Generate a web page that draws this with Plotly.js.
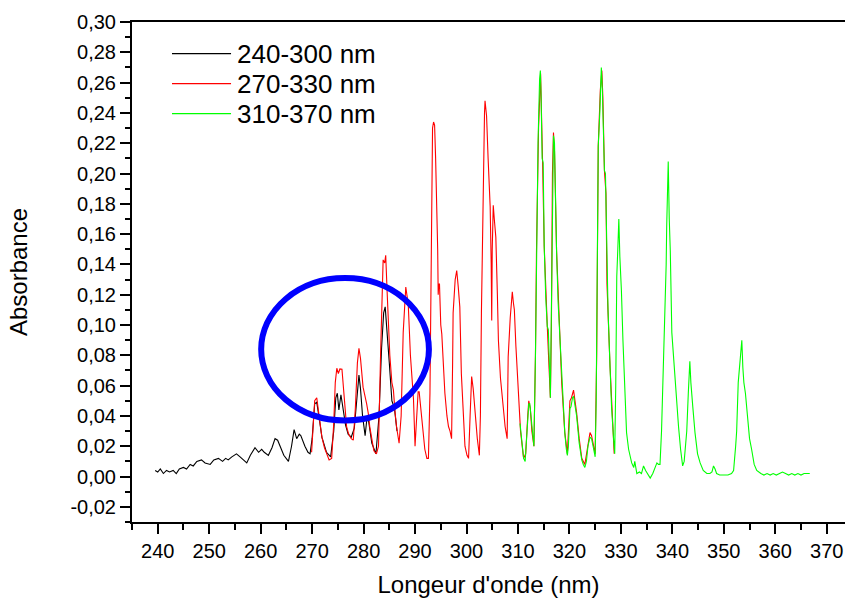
<!DOCTYPE html>
<html>
<head>
<meta charset="utf-8">
<script src="https://cdn.plot.ly/plotly-3.0.1.min.js"></script>
<style>
  html, body { margin: 0; padding: 0; background: #ffffff; }
  #chart { width: 845px; height: 598px; }
</style>
</head>
<body>
<div id="chart"></div>
<script>
// ---- Data ----
const seriesNames = ["240-300 nm", "270-330 nm", "310-370 nm"];
const seriesColors = ["#000000", "#ff0000", "#00ff00"];

const blackX = [239.5,240.0,240.5,241.1,241.7,242.3,243.0,243.6,244.2,245.0,245.6,246.3,246.9,247.6,248.5,249.2,250.2,250.9,251.8,252.6,253.2,253.7,254.4,255.3,256.0,256.6,257.3,258.0,258.9,259.6,260.2,260.7,261.5,262.2,262.8,263.3,263.8,264.5,265.4,266.0,266.5,267.0,267.5,267.8,268.6,269.2,269.6,270.0,270.5,270.9,271.4,271.9,272.8,273.6,274.2,274.6,274.9,275.2,275.6,276.0,276.5,277.0,277.6,278.2,278.6,279.1,279.4,279.8,280.3,280.7,281.0,281.6,282.4,283.0,283.5,283.9,284.2,284.6,285.0,285.5,286.0,286.5];
const blackY = [0.004,0.003,0.005,0.002,0.004,0.003,0.004,0.002,0.005,0.006,0.005,0.008,0.007,0.010,0.011,0.009,0.008,0.011,0.012,0.010,0.012,0.011,0.013,0.015,0.013,0.011,0.009,0.014,0.019,0.016,0.018,0.016,0.014,0.019,0.025,0.024,0.020,0.014,0.010,0.020,0.031,0.025,0.028,0.027,0.020,0.016,0.015,0.025,0.048,0.049,0.038,0.026,0.016,0.013,0.030,0.052,0.055,0.044,0.054,0.046,0.034,0.028,0.026,0.032,0.050,0.067,0.058,0.040,0.027,0.040,0.036,0.022,0.015,0.040,0.085,0.108,0.112,0.095,0.075,0.050,0.045,0.030];

const redX = [269.9,270.2,270.5,270.9,271.3,271.9,272.4,272.8,273.3,273.8,274.2,274.5,274.8,275.1,275.4,275.8,276.2,276.7,277.1,277.6,278.0,278.4,278.8,279.1,279.4,279.9,280.6,280.9,281.2,281.6,282.0,282.5,282.9,283.3,283.6,283.8,284.1,284.3,284.6,284.8,285.1,285.5,285.8,286.1,286.4,286.9,287.3,287.7,288.0,288.2,288.5,288.7,289.1,289.4,289.7,290.0,290.3,290.6,290.8,291.1,291.5,291.9,292.3,292.6,292.9,293.2,293.4,293.6,293.8,294.0,294.2,294.4,294.5,294.6,294.75,294.9,295.0,295.2,295.3,295.5,295.8,296.2,296.5,296.8,297.1,297.3,297.4,297.8,298.0,298.1,298.4,298.7,299.0,299.4,299.7,300.1,300.4,300.7,301.0,301.3,301.7,302.1,302.5,302.7,302.9,303.2,303.5,303.6,303.8,303.9,304.2,304.6,304.8,304.9,305.0,305.2,305.4,305.7,306.0,306.2,306.6,307.1,307.5,307.9,308.1,308.5,308.9,309.1,309.3,309.6,310.1,310.5,311.1,311.5,311.9,312.1,312.4,312.7,313.1,313.4,313.6,314.0,314.4,314.6,314.8,315.1,315.4,315.7,316.0,316.3,316.5,316.7,316.9,317.1,317.5,318.1,318.5,319.1,319.6,320.1,320.4,320.8,321.1,321.4,321.9,322.4,323.0,323.5,324.0,324.3,324.6,325.0,325.3,325.6,326.0,326.3,326.5,326.8,327.1,327.3,327.9,328.3,328.7];
const redY = [0.016,0.030,0.050,0.052,0.040,0.026,0.019,0.015,0.011,0.012,0.035,0.062,0.0715,0.068,0.071,0.0708,0.055,0.033,0.028,0.025,0.024,0.045,0.075,0.0846,0.078,0.059,0.048,0.042,0.033,0.024,0.017,0.015,0.020,0.080,0.130,0.143,0.141,0.146,0.120,0.101,0.080,0.062,0.057,0.043,0.033,0.022,0.040,0.095,0.120,0.125,0.118,0.112,0.080,0.062,0.051,0.020,0.040,0.056,0.056,0.045,0.030,0.018,0.012,0.012,0.055,0.170,0.230,0.234,0.232,0.210,0.187,0.150,0.120,0.127,0.127,0.108,0.100,0.094,0.088,0.070,0.055,0.040,0.033,0.030,0.025,0.075,0.108,0.130,0.134,0.136,0.125,0.112,0.068,0.035,0.020,0.014,0.012,0.040,0.066,0.058,0.040,0.025,0.014,0.040,0.108,0.190,0.240,0.248,0.240,0.238,0.210,0.178,0.140,0.103,0.150,0.179,0.170,0.158,0.120,0.090,0.065,0.045,0.033,0.025,0.079,0.105,0.122,0.115,0.110,0.086,0.053,0.030,0.012,0.015,0.040,0.050,0.045,0.030,0.020,0.080,0.149,0.230,0.266,0.240,0.205,0.152,0.120,0.099,0.075,0.052,0.100,0.200,0.227,0.215,0.149,0.095,0.062,0.029,0.015,0.050,0.052,0.057,0.050,0.042,0.025,0.012,0.008,0.018,0.029,0.027,0.022,0.015,0.080,0.218,0.255,0.268,0.250,0.202,0.187,0.127,0.072,0.040,0.015];

const greenX = [310.4,310.8,311.1,311.4,311.8,312.1,312.3,312.5,312.8,313.1,313.4,313.6,313.9,314.2,314.35,314.5,314.7,314.9,315.1,315.4,315.7,315.9,316.1,316.3,316.5,316.7,316.9,317.1,317.3,317.5,317.8,318.1,318.5,318.8,319.1,319.4,319.6,319.8,320.1,320.3,320.6,320.8,321.1,321.4,321.9,322.4,322.7,323.0,323.3,323.6,324.0,324.3,324.6,324.9,325.0,325.2,325.4,325.6,325.9,326.2,326.4,326.6,326.8,327.0,327.2,327.5,327.9,328.2,328.6,328.8,329.0,329.2,329.4,329.6,329.8,330.1,330.4,330.6,330.9,331.1,331.5,332.1,332.5,332.7,333.1,333.6,334.0,334.4,334.8,335.2,335.7,336.2,336.6,337.0,337.3,337.6,337.9,338.2,338.6,338.8,338.9,339.1,339.2,339.4,339.6,339.9,340.2,340.5,341.2,341.6,342.0,342.3,342.5,342.8,343.1,343.4,343.6,343.8,344.0,344.4,344.9,345.4,346.0,346.7,347.3,347.7,348.0,348.3,348.6,349.2,350.0,350.8,351.5,351.9,352.3,352.5,352.8,353.1,353.3,353.5,353.7,353.9,354.2,354.6,355.0,355.4,355.9,356.4,356.7,357.2,357.8,358.4,359.0,359.6,360.2,360.8,361.4,362.0,362.6,363.2,363.8,364.4,365.0,365.6,366.2,366.7];
const greenY = [0.035,0.020,0.012,0.010,0.030,0.048,0.048,0.040,0.028,0.020,0.080,0.149,0.220,0.262,0.268,0.250,0.210,0.207,0.152,0.118,0.099,0.097,0.070,0.052,0.110,0.190,0.225,0.220,0.180,0.149,0.115,0.095,0.062,0.042,0.029,0.018,0.014,0.020,0.045,0.046,0.052,0.053,0.046,0.040,0.022,0.011,0.008,0.006,0.010,0.020,0.026,0.025,0.020,0.016,0.013,0.050,0.120,0.218,0.240,0.270,0.255,0.220,0.202,0.200,0.150,0.110,0.072,0.045,0.024,0.015,0.060,0.132,0.150,0.170,0.145,0.123,0.090,0.070,0.045,0.029,0.018,0.009,0.006,0.010,0.002,0.003,0.002,0.007,0.004,0.002,-0.001,0.002,0.006,0.009,0.008,0.008,0.030,0.062,0.116,0.140,0.165,0.207,0.208,0.170,0.149,0.095,0.080,0.062,0.033,0.018,0.007,0.010,0.020,0.030,0.055,0.076,0.062,0.051,0.045,0.029,0.015,0.009,0.004,0.002,0.002,0.003,0.007,0.005,0.002,0.001,0.001,0.001,0.002,0.004,0.020,0.030,0.062,0.075,0.085,0.090,0.072,0.062,0.055,0.040,0.025,0.018,0.008,0.004,0.003,0.002,0.001,0.002,0.001,0.002,0.001,0.002,0.003,0.002,0.001,0.002,0.001,0.002,0.001,0.002,0.002,0.002];

const xTickVals = [240,250,260,270,280,290,300,310,320,330,340,350,360,370];
const yTickVals = [-0.02,0.00,0.02,0.04,0.06,0.08,0.10,0.12,0.14,0.16,0.18,0.20,0.22,0.24,0.26,0.28,0.30];
const yTickText = ["-0,02","0,00","0,02","0,04","0,06","0,08","0,10","0,12","0,14","0,16","0,18","0,20","0,22","0,24","0,26","0,28","0,30"];

const xTitle = "Longeur d'onde (nm)";
const yTitle = "Absorbance";

// highlight ellipse (annotation, in data units)
const ellipseX = [260.1, 292.7];
const ellipseY = [0.037, 0.131];

// ---- Build chart ----
const FONT = "Liberation Sans, Arial, sans-serif";
const xs = [blackX, redX, greenX];
const ys = [blackY, redY, greenY];
const traces = xs.map((x, i) => ({
  type: "scatter",
  mode: "lines",
  x: x,
  y: ys[i],
  name: seriesNames[i],
  line: { color: seriesColors[i], width: 1.1 },
  hoverinfo: "skip",
  showlegend: false
}));

// legend drawn as paper-positioned sample lines + text
const legendRowsY = [0.9367, 0.8768, 0.8168];
const legendLineX = [0.0561, 0.1389];
const legendTextX = 0.1445;
const legendShapes = seriesNames.map((n, i) => ({
  type: "line", xref: "paper", yref: "paper",
  x0: legendLineX[0], x1: legendLineX[1],
  y0: legendRowsY[i], y1: legendRowsY[i],
  line: { color: seriesColors[i], width: 1.1 }
}));
const legendAnnots = seriesNames.map((n, i) => ({
  xref: "paper", yref: "paper",
  x: legendTextX, y: legendRowsY[i],
  xanchor: "left", yanchor: "middle",
  text: n, showarrow: false,
  font: { family: FONT, size: 26, color: "#000" }
}));

const axisCommon = {
  showgrid: false,
  zeroline: false,
  showline: true,
  linecolor: "#000",
  linewidth: 2,
  ticks: "outside",
  ticklen: 10,
  tickwidth: 2,
  tickcolor: "#000",
  tickfont: { family: FONT, size: 20, color: "#000" }
};

const layout = {
  width: 845,
  height: 598,
  margin: { l: 132, r: 0, t: 22, b: 76 },
  paper_bgcolor: "#fff",
  plot_bgcolor: "#fff",
  font: { family: FONT, color: "#000" },
  showlegend: false,
  xaxis: Object.assign({}, axisCommon, {
    range: [235, 373.55],
    tickmode: "array",
    tickvals: xTickVals,
    ticktext: xTickVals.map(String),
    mirror: true,
    minor: { ticks: "outside", ticklen: 6, tickwidth: 2, tickcolor: "#000", dtick: 5, tick0: 235, showgrid: false },
    title: { text: xTitle, font: { family: FONT, size: 24, color: "#000" }, standoff: 16 }
  }),
  yaxis: Object.assign({}, axisCommon, {
    range: [-0.03, 0.30],
    tickmode: "array",
    tickvals: yTickVals,
    ticktext: yTickText,
    minor: { ticks: "outside", ticklen: 5, tickwidth: 2, tickcolor: "#000", dtick: 0.01, tick0: 0, showgrid: false },
    title: { text: yTitle, font: { family: FONT, size: 24, color: "#000" }, standoff: 36 }
  }),
  shapes: [{
    type: "circle",
    xref: "x", yref: "y",
    x0: ellipseX[0], x1: ellipseX[1],
    y0: ellipseY[0], y1: ellipseY[1],
    line: { color: "#0000ff", width: 6 },
    fillcolor: "rgba(0,0,0,0)"
  }].concat(legendShapes),
  annotations: legendAnnots
};

Plotly.newPlot("chart", traces, layout, { staticPlot: true, displayModeBar: false });
</script>
</body>
</html>
